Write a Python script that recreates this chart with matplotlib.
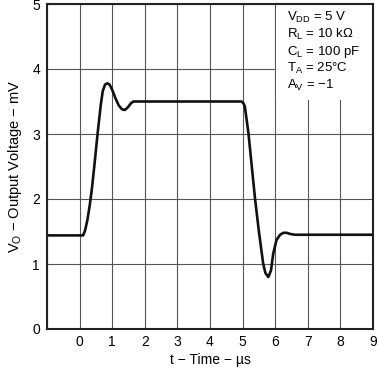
import matplotlib
matplotlib.use("Agg")
import matplotlib.pyplot as plt
from matplotlib.patches import Rectangle

plt.rcParams['font.family'] = ['Liberation Sans', 'DejaVu Sans']
plt.rcParams['mathtext.default'] = 'regular'

time_us = [-1.0, 0.11, 0.17, 0.24, 0.31, 0.38, 0.45, 0.555, 0.65, 0.71, 0.78,
           0.85, 0.92, 1.0, 1.1, 1.2, 1.3, 1.39, 1.48, 1.57, 1.65, 1.8, 4.97,
           5.03, 5.07, 5.18, 5.38, 5.5, 5.63, 5.7, 5.79, 5.87, 5.94, 6.04,
           6.15, 6.25, 6.35, 6.48, 6.61, 9.0]
vout_mv = [1.44, 1.44, 1.52, 1.68, 1.9, 2.17, 2.5, 3.02, 3.45, 3.66, 3.76,
           3.78, 3.76, 3.68, 3.55, 3.44, 3.38, 3.37, 3.41, 3.47, 3.5, 3.5, 3.5,
           3.47, 3.42, 3.01, 2.01, 1.5, 1.01, 0.86, 0.8, 0.9, 1.16, 1.37,
           1.45, 1.48, 1.48, 1.46, 1.45, 1.45]

x_ticks = list(range(-1, 10))
x_labels = [''] + [str(i) for i in range(0, 10)]
y_ticks = [0, 1, 2, 3, 4, 5]

cond_lines = ['V$_{DD}$ = 5 V', 'R$_L$ = 10 k\u03a9', 'C$_L$ = 100 pF',
              'T$_A$ = 25\u00b0C', 'A$_V$ = \u22121']

fig = plt.figure(figsize=(3.79, 3.68), dpi=100)
ax = fig.add_axes([47/379, 39/368, 326/379, 325/368])

ax.set_xlim(-1, 9)
ax.set_ylim(0, 5)
ax.set_xticks(x_ticks)
ax.set_xticklabels(x_labels)
ax.set_yticks(y_ticks)
ax.tick_params(length=0, labelsize=10, pad=5)
ax.tick_params(axis='x', pad=4)
ax.grid(True, color='#555555', lw=0.8)
ax.set_axisbelow(True)
for s in ax.spines.values():
    s.set_linewidth(1.5)
    s.set_color('#222222')

# white box behind the test conditions
ax.add_patch(Rectangle((6.02, 3.52), 2.98, 1.48, facecolor='white',
                       edgecolor='none', zorder=1.5))
for i, s in enumerate(cond_lines):
    ax.text(287, 368 - 21 - 17.1 * i, s, transform=None, fontsize=9.5,
            va='baseline', ha='left', zorder=3)

ax.plot(time_us, vout_mv, color='#111111', lw=1.9, zorder=2,
        solid_joinstyle='round')

ax.set_xlabel('t \u2212 Time \u2212 \u00b5s', fontsize=10, labelpad=3)
ax.set_ylabel('V$_O$ \u2212 Output Voltage \u2212 mV', fontsize=10.5, labelpad=6)

fig.savefig('out.png', dpi=100)
